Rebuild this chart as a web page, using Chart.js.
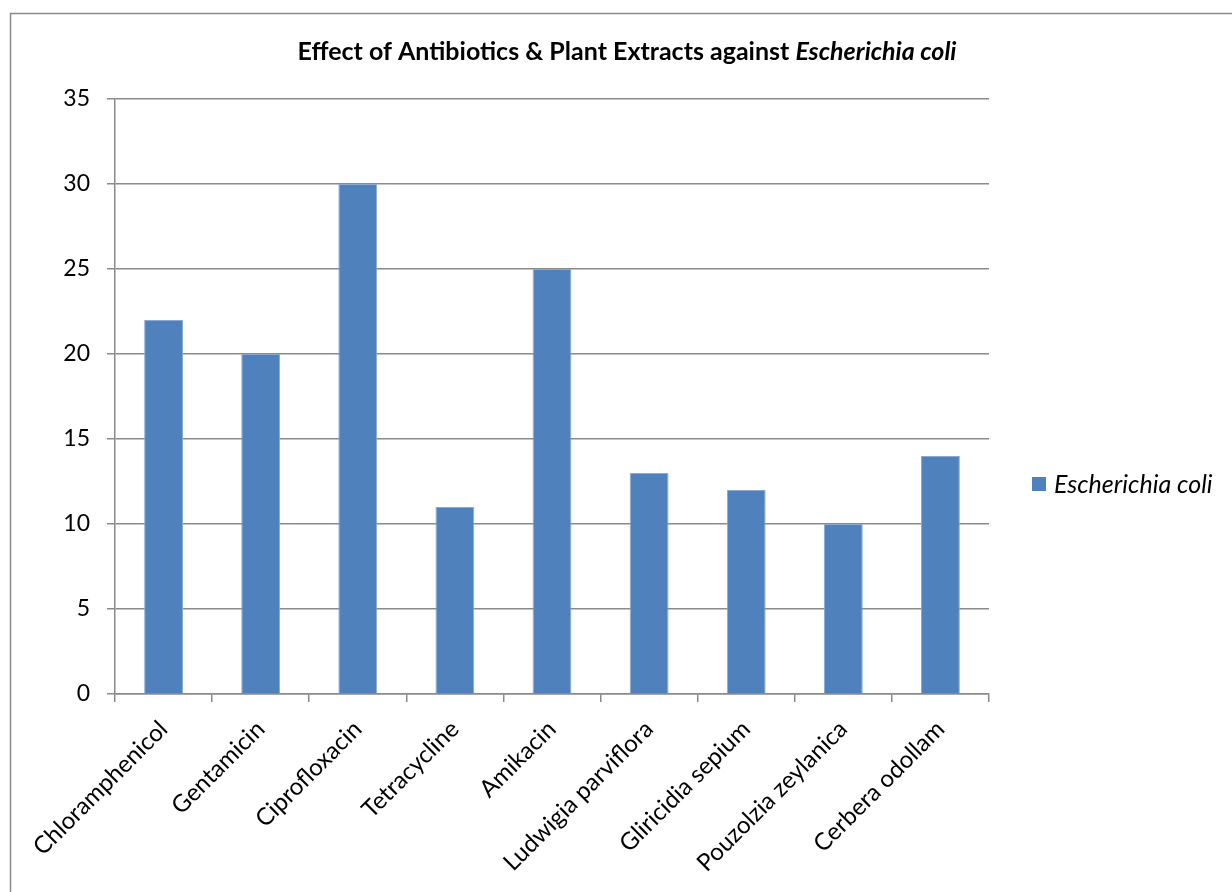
<!DOCTYPE html>
<html>
<head>
<meta charset="utf-8">
<script src="https://cdn.jsdelivr.net/npm/chart.js@4"></script>
<style>
  html, body { margin: 0; padding: 0; background: #fff; }
  #wrap { width: 1232px; height: 892px; position: relative; }
</style>
</head>
<body>
<div id="wrap"><canvas id="c"></canvas></div>
<script>
// Zone of inhibition (mm) for each antibiotic / plant extract
const categories = [
  'Chloramphenicol', 'Gentamicin', 'Ciprofloxacin', 'Tetracycline', 'Amikacin',
  'Ludwigia parviflora', 'Gliricidia sepium', 'Pouzolzia zeylanica', 'Cerbera odollam'
];
const seriesName = 'Escherichia coli';
const inhibitionValues = [22, 20, 30, 11, 25, 13, 12, 10, 14];
const yTickValues = [0, 5, 10, 15, 20, 25, 30, 35];
const titlePlain = 'Effect of Antibiotics & Plant Extracts against ';
const titleItalic = 'Escherichia coli';

const FONT = 'Lato, "Open Sans", sans-serif';
const BAR_FILL = '#4F81BD';
const GRID = '#8a8a8a';

// White page and the thin grey frame around the chart
const framePlugin = {
  id: 'frame',
  beforeDraw(chart) {
    const ctx = chart.ctx;
    ctx.save();
    ctx.fillStyle = '#fff';
    ctx.fillRect(0, 0, chart.width, chart.height);
    ctx.strokeStyle = '#8a8a8a';
    ctx.lineWidth = 1.5;
    ctx.strokeRect(10.5, 13.5, chart.width + 20, chart.height + 20);
    ctx.restore();
  }
};

// Title with the organism name set in italics
const titlePlugin = {
  id: 'mixedTitle',
  afterDraw(chart) {
    const ctx = chart.ctx;
    ctx.save();
    const fPlain = 'bold 25px ' + FONT;
    const fItal = 'italic bold 25px ' + FONT;
    ctx.font = fPlain;
    const w1 = ctx.measureText(titlePlain).width;
    ctx.font = fItal;
    const w2 = ctx.measureText(titleItalic).width;
    const cx = 627;
    let x = cx - (w1 + w2) / 2;
    const y = 60;
    ctx.fillStyle = '#000';
    ctx.textBaseline = 'alphabetic';
    ctx.font = fPlain;
    ctx.fillText(titlePlain, x, y);
    ctx.font = fItal;
    ctx.fillText(titleItalic, x + w1, y);
    ctx.restore();
  }
};

// Single-entry legend to the right of the plot
const legendPlugin = {
  id: 'sideLegend',
  afterDraw(chart) {
    const ctx = chart.ctx;
    const ds = chart.data.datasets[0];
    ctx.save();
    ctx.fillStyle = ds.backgroundColor;
    ctx.fillRect(1032, 477, 14, 14);
    ctx.fillStyle = '#000';
    ctx.font = 'italic 25px ' + FONT;
    ctx.textBaseline = 'alphabetic';
    ctx.fillText(ds.label, 1054, 493);
    ctx.restore();
  }
};

new Chart(document.getElementById('c'), {
  type: 'bar',
  data: {
    labels: categories,
    datasets: [{
      label: seriesName,
      data: inhibitionValues,
      backgroundColor: BAR_FILL,
      borderColor: '#8aa9d3',
      borderWidth: 1,
      categoryPercentage: 0.8,
      barPercentage: 0.5
    }]
  },
  options: {
    responsive: true,
    maintainAspectRatio: false,
    animation: false,
    layout: { padding: { top: 99, right: 243, left: 0, bottom: 0 } },
    plugins: {
      legend: { display: false },
      title: { display: false },
      tooltip: { enabled: false }
    },
    scales: {
      y: {
        min: 0,
        max: 35,
        afterBuildTicks(scale) { scale.ticks = yTickValues.map(v => ({ value: v })); },
        afterFit(scale) { scale.width = 115; },
        ticks: {
          color: '#000',
          font: { family: FONT, size: 23 },
          padding: 17
        },
        grid: {
          color: GRID,
          lineWidth: 1.5,
          drawTicks: true,
          tickLength: 8,
          tickColor: GRID
        },
        border: { display: true, color: GRID, width: 1.5 }
      },
      x: {
        afterFit(scale) { scale.height = 198; },
        ticks: {
          color: '#000',
          font: { family: FONT, size: 24 },
          minRotation: 45,
          maxRotation: 45,
          autoSkip: false,
          padding: 13
        },
        grid: {
          drawOnChartArea: false,
          drawTicks: true,
          tickLength: 8,
          lineWidth: 1.5,
          color: GRID,
          tickColor: GRID,
          offset: true
        },
        border: { display: true, color: GRID, width: 1.5 }
      }
    }
  },
  plugins: [framePlugin, titlePlugin, legendPlugin]
});
</script>
</body>
</html>
